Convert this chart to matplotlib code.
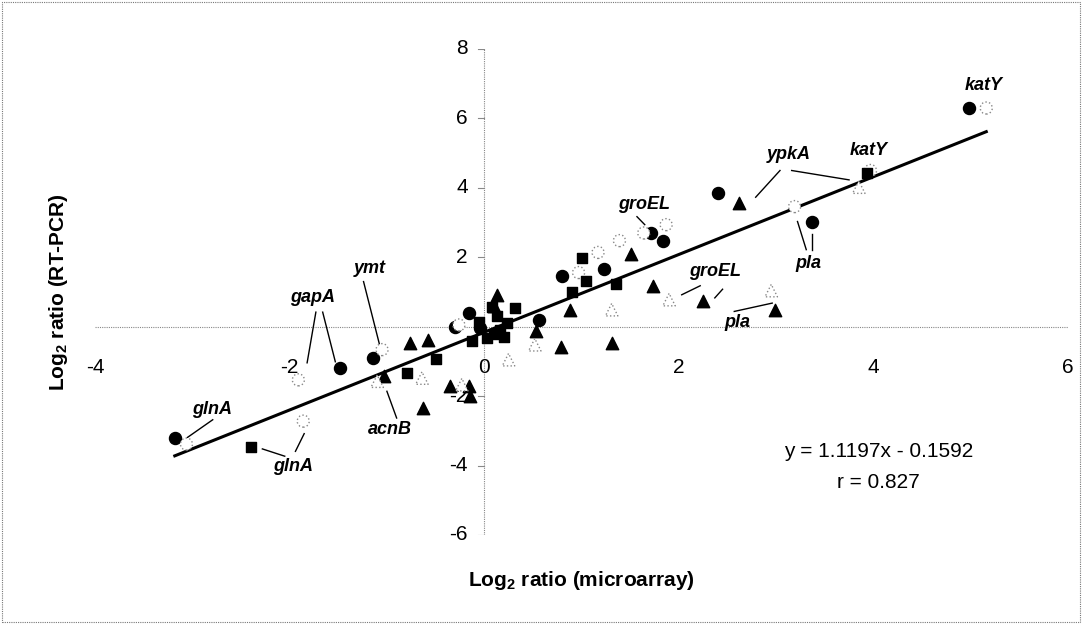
import matplotlib
matplotlib.use("Agg")
import matplotlib.pyplot as plt
from matplotlib.patches import Rectangle
import numpy as np

plt.rcParams['font.family'] = ['Liberation Sans', 'DejaVu Sans']

# ---- data (log2 ratios: microarray x, RT-PCR y) ----
filled_circle_x = [-3.18, -1.48, -1.14, -0.30, -0.16, -0.04, 0.56, 0.80, 1.23, 1.71, 1.84, 2.40, 3.37, 4.98]
filled_circle_y = [-3.20, -1.19, -0.90, 0.00, 0.39, -0.04, 0.20, 1.45, 1.67, 2.71, 2.48, 3.85, 3.03, 6.30]

open_circle_x = [-3.06, -1.91, -1.86, -1.05, -0.26, 0.97, 1.17, 1.39, 1.64, 1.87, 3.19, 3.97, 5.16]
open_circle_y = [-3.38, -1.53, -2.72, -0.66, 0.05, 1.56, 2.14, 2.48, 2.70, 2.94, 3.46, 4.50, 6.30]

filled_square_x = [-2.40, -0.79, -0.50, -0.13, 0.03, 0.16, 0.23, 0.13, 0.08, 0.10, 0.32, 0.90, 1.00, 1.05, 1.35, 3.93, -0.05, 0.20]
filled_square_y = [-3.46, -1.33, -0.93, -0.42, -0.33, -0.09, 0.11, 0.30, 0.58, -0.20, 0.54, 0.99, 1.97, 1.32, 1.24, 4.42, 0.15, -0.30]

filled_tri_x = [-1.03, -0.76, -0.58, -0.63, -0.35, -0.16, -0.15, 0.13, 0.10, 0.53, 0.79, 0.88, 1.31, 1.51, 1.73, 2.25, 2.62, 2.99]
filled_tri_y = [-1.43, -0.47, -0.37, -2.34, -1.72, -1.72, -2.00, 0.92, 0.60, -0.13, -0.57, 0.49, -0.47, 2.09, 1.16, 0.73, 3.56, 0.49]

open_tri_x = [-1.10, -0.64, -0.23, 0.25, 0.52, 1.31, 1.90, 2.95, 3.85]
open_tri_y = [-1.57, -1.48, -1.67, -0.95, -0.52, 0.49, 0.78, 1.04, 4.02]

# regression fit shown on the chart
fit_slope = 1.1197
fit_intercept = -0.1592

x_ticks = [-4, -2, 0, 2, 4, 6]
y_ticks = [-6, -4, -2, 2, 4, 6, 8]

# gene labels: (text, x, y)
gene_labels = [
    ("katY", 5.13, 6.96), ("ypkA", 3.13, 4.95), ("katY", 3.95, 5.09),
    ("groEL", 1.64, 3.51), ("groEL", 2.37, 1.59), ("pla", 3.33, 1.83),
    ("pla", 2.60, 0.11), ("glnA", -2.80, -2.39), ("glnA", -1.96, -4.02),
    ("acnB", -0.97, -2.96), ("gapA", -1.76, 0.85), ("ymt", -1.18, 1.68),
]
# leader lines: (x0, y0, x1, y1)
leaders = [
    (-2.79, -2.68, -3.05, -3.19),
    (-2.05, -3.73, -2.28, -3.52), (-1.94, -3.59, -1.85, -3.08),
    (-0.90, -2.63, -1.00, -1.86),
    (-1.82, -1.04, -1.73, 0.42), (-1.53, -1.01, -1.66, 0.42),
    (-1.07, -0.58, -1.24, 1.30),
    (1.57, 3.17, 1.65, 2.94),
    (2.03, 0.92, 2.22, 1.18), (2.37, 0.83, 2.45, 1.08),
    (2.79, 3.73, 3.04, 4.50), (3.16, 4.50, 3.75, 4.23),
    (3.22, 3.03, 3.31, 2.22), (3.37, 2.68, 3.37, 2.22),
    (2.57, 0.44, 2.96, 0.68),
]

W, H = 1082, 624
fig = plt.figure(figsize=(W / 100, H / 100), dpi=100)
fig.patches.append(Rectangle((2 / W, 2 / H), (W - 4) / W, (H - 4) / H,
                             transform=fig.transFigure, fill=False,
                             edgecolor='#777777', linewidth=0.8, linestyle=(0, (1, 1))))

ax = fig.add_axes([95 / W, 1 - 535 / H, (1068 - 95) / W, (535 - 49) / H])
ax.set_xlim(-4, 6)
ax.set_ylim(-6, 8)
for s in ax.spines.values():
    s.set_visible(False)
ax.set_xticks([])
ax.set_yticks([])

ax.axhline(0, color='#888888', lw=0.8, ls=(0, (1, 1)), zorder=1)
ax.axvline(0, color='#888888', lw=0.8, ls=(0, (1, 1)), zorder=1)

fs = 15
for t in x_ticks:
    ax.text(t, -1.17, f"{t}", ha='center', va='center', fontsize=fs)
for t in y_ticks:
    ax.text(-0.17, t, f"{t}", ha='right', va='center', fontsize=fs)
    ax.plot([-0.06, 0], [t, t], color='#888888', lw=0.8)

# regression line
all_x = np.concatenate([filled_circle_x, open_circle_x, filled_square_x, filled_tri_x, open_tri_x])
lx = np.array([all_x.min(), all_x.max()])
ax.plot(lx, fit_slope * lx + fit_intercept, color='black', lw=2.2, zorder=3)

ax.scatter(filled_circle_x, filled_circle_y, s=75, marker='o', color='black', zorder=4)
ax.scatter(open_circle_x, open_circle_y, s=75, marker='o', facecolors='white',
           edgecolors='#888888', linewidths=1.0, linestyles=':', zorder=4)
ax.scatter(filled_square_x, filled_square_y, s=55, marker='s', color='black', zorder=4)
ax.scatter(filled_tri_x, filled_tri_y, s=80, marker='^', color='black', zorder=4)
ax.scatter(open_tri_x, open_tri_y, s=80, marker='^', facecolors='white',
           edgecolors='#888888', linewidths=1.0, linestyles=':', zorder=4)

for txt, x, y in gene_labels:
    ax.text(x, y, txt, ha='center', va='center', fontsize=13,
            fontstyle='italic', fontweight='bold')
for x0, y0, x1, y1 in leaders:
    ax.plot([x0, x1], [y0, y1], color='black', lw=1.0, zorder=2)

ax.text(4.05, -3.6, "y = 1.1197x - 0.1592", ha='center', va='center', fontsize=fs)
ax.text(4.05, -4.5, "r = 0.827", ha='center', va='center', fontsize=fs)

fig.text((95 + 1068) / 2 / W, 1 - 581 / H, "Log$_\\mathregular{2}$ ratio (microarray)",
         ha='center', va='center', fontsize=15, fontweight='bold')
fig.text(58 / W, 1 - 292 / H, "Log$_\\mathregular{2}$ ratio (RT-PCR)", rotation=90,
         ha='center', va='center', fontsize=15, fontweight='bold')

fig.savefig("out.png", dpi=100)
